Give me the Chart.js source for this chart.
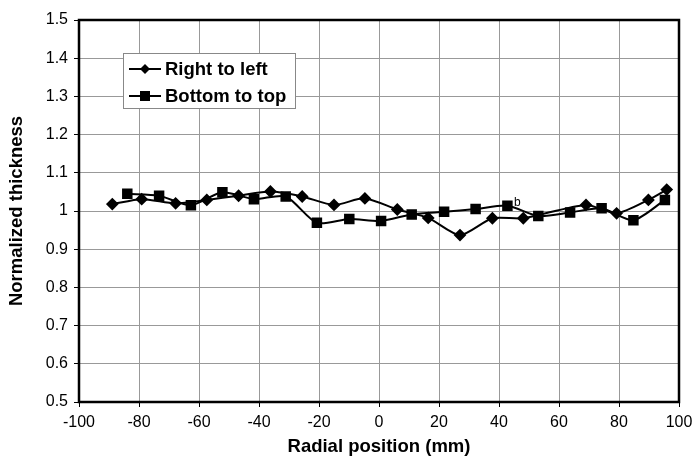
<!DOCTYPE html>
<html>
<head>
<meta charset="utf-8">
<script src="https://cdn.jsdelivr.net/npm/chart.js@4"></script>
<style>
  html, body { margin: 0; padding: 0; background: #fff; }
  #wrap { width: 694px; height: 462px; }
</style>
</head>
<body>
<div id="wrap"><canvas id="chart"></canvas></div>
<script>
// Right to left (diamonds)
var rtlX = [-88.9, -79.1, -67.8, -57.4, -46.8, -36.2, -25.6, -15, -4.7, 6.1, 16.4, 27, 37.8, 48.1, 69, 79.2, 89.8, 95.9];
var rtlY = [1.018, 1.031, 1.020, 1.029, 1.040, 1.051, 1.038, 1.016, 1.033, 1.004, 0.982, 0.937, 0.981, 0.981, 1.016, 0.994, 1.029, 1.056];
// Bottom to top (squares)
var bttX = [-83.9, -73.3, -62.7, -52.2, -41.7, -31.1, -20.7, -9.9, 0.7, 10.9, 21.7, 32.2, 42.8, 53.1, 63.7, 74.2, 84.8, 95.3];
var bttY = [1.045, 1.040, 1.015, 1.049, 1.031, 1.038, 0.969, 0.979, 0.974, 0.991, 0.998, 1.005, 1.014, 0.987, 0.996, 1.007, 0.976, 1.029];
var seriesNames = ["Right to left", "Bottom to top"];
var xTicks = [-100, -80, -60, -40, -20, 0, 20, 40, 60, 80, 100];
var yTicks = [0.5, 0.6, 0.7, 0.8, 0.9, 1, 1.1, 1.2, 1.3, 1.4, 1.5];
var note = { x: 45, y: 1.022, text: "b" };

var FONT = "'Liberation Sans', Arial, sans-serif";

function pts(xs, ys) {
    return xs.map(function (x, i) { return { x: x, y: ys[i] }; });
}

var frameAndLegend = {
    id: "frameAndLegend",
    afterDraw: function (chart) {
        var c = chart.ctx, a = chart.chartArea;
        c.save();
        c.strokeStyle = "#000";
        c.lineWidth = 2.5;
        c.strokeRect(a.left, a.top, a.right - a.left, a.bottom - a.top);

        // note label
        c.fillStyle = "#000";
        c.font = "12px " + FONT;
        c.textBaseline = "middle";
        c.fillText(note.text, chart.scales.x.getPixelForValue(note.x), chart.scales.y.getPixelForValue(note.y));

        // legend box
        var lx = 123, ly = 53, lw = 172, lh = 55;
        c.fillStyle = "#fff";
        c.fillRect(lx, ly, lw, lh);
        c.strokeStyle = "#888";
        c.lineWidth = 1;
        c.strokeRect(lx + 0.5, ly + 0.5, lw, lh);
        c.font = "bold 18.5px " + FONT;
        chart.data.datasets.forEach(function (ds, i) {
            var yy = ly + 16 + i * 27;
            c.strokeStyle = "#000";
            c.lineWidth = 2;
            c.beginPath();
            c.moveTo(lx + 6, yy);
            c.lineTo(lx + 38, yy);
            c.stroke();
            c.fillStyle = "#000";
            c.beginPath();
            if (i === 0) {
                c.moveTo(lx + 22, yy - 5); c.lineTo(lx + 27, yy); c.lineTo(lx + 22, yy + 5); c.lineTo(lx + 17, yy);
                c.closePath(); c.fill();
            } else {
                c.fillRect(lx + 17, yy - 5, 10, 10);
            }
            c.textBaseline = "middle";
            c.fillText(ds.label, lx + 42, yy + 1);
        });
        c.restore();
    }
};

var ctx = document.getElementById("chart").getContext("2d");
var myChart = new Chart(ctx, {
    type: "scatter",
    data: {
        datasets: [{
                label: seriesNames[0],
                data: pts(rtlX, rtlY),
                showLine: true,
                tension: 0.25,
                borderColor: "#000",
                backgroundColor: "#000",
                borderWidth: 2,
                pointStyle: "rectRot",
                pointRadius: 5,
                pointHoverRadius: 5
            },
            {
                label: seriesNames[1],
                data: pts(bttX, bttY),
                showLine: true,
                tension: 0.25,
                borderColor: "#000",
                backgroundColor: "#000",
                borderWidth: 2,
                pointStyle: "rect",
                pointRadius: 6,
                pointHoverRadius: 6
            }
        ]
    },
    options: {
        responsive: true,
        maintainAspectRatio: false,
        animation: false,
        layout: { padding: { top: 20, right: 15, left: 2, bottom: 0 } },
        plugins: { legend: { display: false }, tooltip: { enabled: false } },
        scales: {
            x: {
                type: "linear",
                min: -100, max: 100,
                afterBuildTicks: function (s) { s.ticks = xTicks.map(function (v) { return { value: v }; }); },
                afterFit: function (s) { s.height = 60; s.paddingRight = 0; s.paddingLeft = 0; },
                grid: { color: "#999", lineWidth: 1, tickLength: 5, tickColor: "#000" },
                border: { display: false },
                ticks: { color: "#000", font: { family: FONT, size: 16 }, padding: 6, maxRotation: 0 },
                title: { display: true, text: "Radial position (mm)", color: "#000", font: { family: FONT, size: 18.5, weight: "bold" }, padding: { top: 2 } }
            },
            y: {
                min: 0.5, max: 1.5,
                afterBuildTicks: function (s) { s.ticks = yTicks.map(function (v) { return { value: v }; }); },
                afterFit: function (s) { s.width = 77; },
                grid: { color: "#999", lineWidth: 1, tickLength: 5, tickColor: "#000" },
                border: { display: false },
                ticks: {
                    color: "#000",
                    font: { family: FONT, size: 16 },
                    padding: 6,
                    callback: function (v) { return String(Number(v.toFixed(1))); }
                },
                title: { display: true, text: "Normalized thickness", color: "#000", font: { family: FONT, size: 18.5, weight: "bold" }, padding: { bottom: 4 } }
            }
        }
    },
    plugins: [frameAndLegend]
});
</script>
</body>
</html>
